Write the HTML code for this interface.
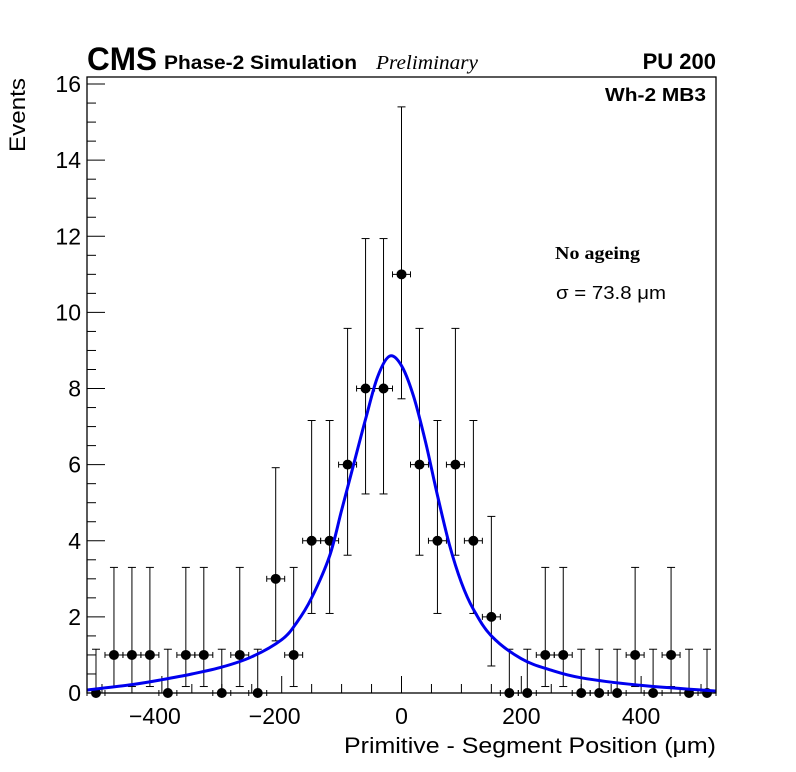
<!DOCTYPE html>
<html><head><meta charset="utf-8"><style>
body{margin:0;background:#fff;}
svg{display:block;font-family:"Liberation Sans",sans-serif;}
</style></head><body>
<svg id="chart" width="796" height="772" xmlns="http://www.w3.org/2000/svg">
<rect x="0" y="0" width="796" height="772" fill="#fff"/>
<text x="87" y="70" font-size="32" font-weight="bold" textLength="70" lengthAdjust="spacingAndGlyphs">CMS</text>
<text x="164" y="69" font-size="19" font-weight="bold" textLength="193" lengthAdjust="spacingAndGlyphs">Phase-2 Simulation</text>
<text x="376" y="69" font-size="20" font-style="italic" font-family="Liberation Serif,serif" textLength="102" lengthAdjust="spacingAndGlyphs">Preliminary</text>
<text x="716" y="69" font-size="22" font-weight="bold" text-anchor="end">PU 200</text>
<text x="706" y="101" font-size="18" font-weight="bold" text-anchor="end" textLength="101" lengthAdjust="spacingAndGlyphs">Wh-2 MB3</text>
<text x="555" y="259" font-size="18" font-weight="bold" font-family="Liberation Serif,serif" textLength="85" lengthAdjust="spacingAndGlyphs">No ageing</text>
<text x="556" y="299" font-size="18" textLength="110" lengthAdjust="spacingAndGlyphs">σ = 73.8 μm</text>
<text x="716" y="753" font-size="22" text-anchor="end" textLength="372" lengthAdjust="spacingAndGlyphs">Primitive - Segment Position (μm)</text>
<text transform="translate(25,152) rotate(-90)" font-size="22" textLength="74" lengthAdjust="spacingAndGlyphs">Events</text>
<g id="axes"></g>
<g id="marks"></g>
<rect x="87" y="77" width="629" height="616" fill="none" stroke="#000" stroke-width="1.3"/>
</svg>
<script>
const counts=[0,1,1,1,0,1,1,0,1,0,3,1,4,4,6,8,8,11,6,4,6,4,2,0,0,1,1,0,0,0,1,0,1,0,0];
const errLow=[0,0.83,0.83,0.83,0,0.83,0.83,0,0.83,0,1.63,0.83,1.91,1.91,2.38,2.77,2.77,3.27,2.38,1.91,2.38,1.91,1.29,0,0,0.83,0.83,0,0,0,0.83,0,0.83,0,0];
const errHigh=[1.15,2.3,2.3,2.3,1.15,2.3,2.3,1.15,2.3,1.15,2.92,2.3,3.16,3.16,3.58,3.94,3.94,4.4,3.58,3.16,3.58,3.16,2.64,1.15,1.15,2.3,2.3,1.15,1.15,1.15,2.3,1.15,2.3,1.15,1.15];
const fitX=[-525,-450,-400,-350,-300,-250,-200,-175,-150,-120,-100,-80,-60,-40,-20,0,20,40,60,80,100,120,150,200,250,300,400,525];
const fitY=[0.08,0.22,0.35,0.5,0.68,0.95,1.4,1.85,2.5,3.6,4.8,6.0,7.2,8.3,8.85,8.6,7.8,6.6,5.2,3.9,2.9,2.2,1.5,0.9,0.6,0.4,0.2,0.05];
const xTicks=[-400,-200,0,200,400];
const yTicks=[0,2,4,6,8,10,12,14,16];
const X0=87,X1=716,XMIN=-525,XMAX=525,Y0=693,PPU=38.06,BW=30;
const sx=v=>X0+(v-XMIN)/(XMAX-XMIN)*(X1-X0);
const sy=v=>Y0-v*PPU;
const NS="http://www.w3.org/2000/svg";
function mk(t,a,p){const e=document.createElementNS(NS,t);for(const k in a)e.setAttribute(k,a[k]);p.appendChild(e);return e;}
const axes=document.getElementById('axes'),marks=document.getElementById('marks');
for(let v=-500;v<=500;v+=50){const big=v%200===0;
 const t=mk('line',{x1:sx(v),x2:sx(v),y1:Y0,y2:Y0-(big?17:9),stroke:'#000','stroke-width':1},axes);
 
 }
xTicks.forEach(v=>{const t=mk('text',{x:sx(v)-(v<0?7:0),y:724,'font-size':23,'text-anchor':'middle'},axes);t.textContent=(v<0?'\u2212'+(-v):v);
 
 });
for(let v=0;v<=16;v+=0.5){const big=v%2===0;
 const t=mk('line',{x1:X0,x2:X0+(big?18:9),y1:sy(v),y2:sy(v),stroke:'#000','stroke-width':1},axes);
 
 }
yTicks.forEach(v=>{const t=mk('text',{x:81,y:sy(v)+8,'font-size':23,'text-anchor':'end'},axes);t.textContent=v;
 
 });
counts.forEach((c,i)=>{const cx=sx(XMIN+BW*(i+0.5));const g=mk('g',{},marks);
 
 
 mk('line',{x1:cx,x2:cx,y1:sy(c-errLow[i]),y2:sy(c+errHigh[i]),stroke:'#000','stroke-width':1},g);
 mk('line',{x1:cx-4,x2:cx+4,y1:sy(c+errHigh[i]),y2:sy(c+errHigh[i]),stroke:'#000','stroke-width':1},g);
 if(errLow[i]>0)mk('line',{x1:cx-4,x2:cx+4,y1:sy(c-errLow[i]),y2:sy(c-errLow[i]),stroke:'#000','stroke-width':1},g);
 mk('line',{x1:sx(XMIN+BW*i),x2:sx(XMIN+BW*(i+1)),y1:sy(c),y2:sy(c),stroke:'#000','stroke-width':1},g);
 mk('line',{x1:sx(XMIN+BW*i),x2:sx(XMIN+BW*i),y1:sy(c)-3,y2:sy(c)+3,stroke:'#000','stroke-width':1},g);
 mk('line',{x1:sx(XMIN+BW*(i+1)),x2:sx(XMIN+BW*(i+1)),y1:sy(c)-3,y2:sy(c)+3,stroke:'#000','stroke-width':1},g);
 mk('circle',{cx:cx,cy:sy(c),r:5,fill:'#000'},g);});
const P=fitX.map((x,i)=>[sx(x),sy(fitY[i])]);
let d='M'+P[0][0].toFixed(1)+','+P[0][1].toFixed(1);
for(let i=0;i<P.length-1;i++){const p0=P[Math.max(0,i-1)],p1=P[i],p2=P[i+1],p3=P[Math.min(P.length-1,i+2)];
 const c1=[p1[0]+(p2[0]-p0[0])/6,p1[1]+(p2[1]-p0[1])/6],c2=[p2[0]-(p3[0]-p1[0])/6,p2[1]-(p3[1]-p1[1])/6];
 d+='C'+c1.map(v=>v.toFixed(1)).join(',')+' '+c2.map(v=>v.toFixed(1)).join(',')+' '+p2.map(v=>v.toFixed(1)).join(',');}
const fp=mk('path',{d:d,fill:'none',stroke:'#0000ee','stroke-width':3,'stroke-linejoin':'round'},marks);


</script>
</body></html>
